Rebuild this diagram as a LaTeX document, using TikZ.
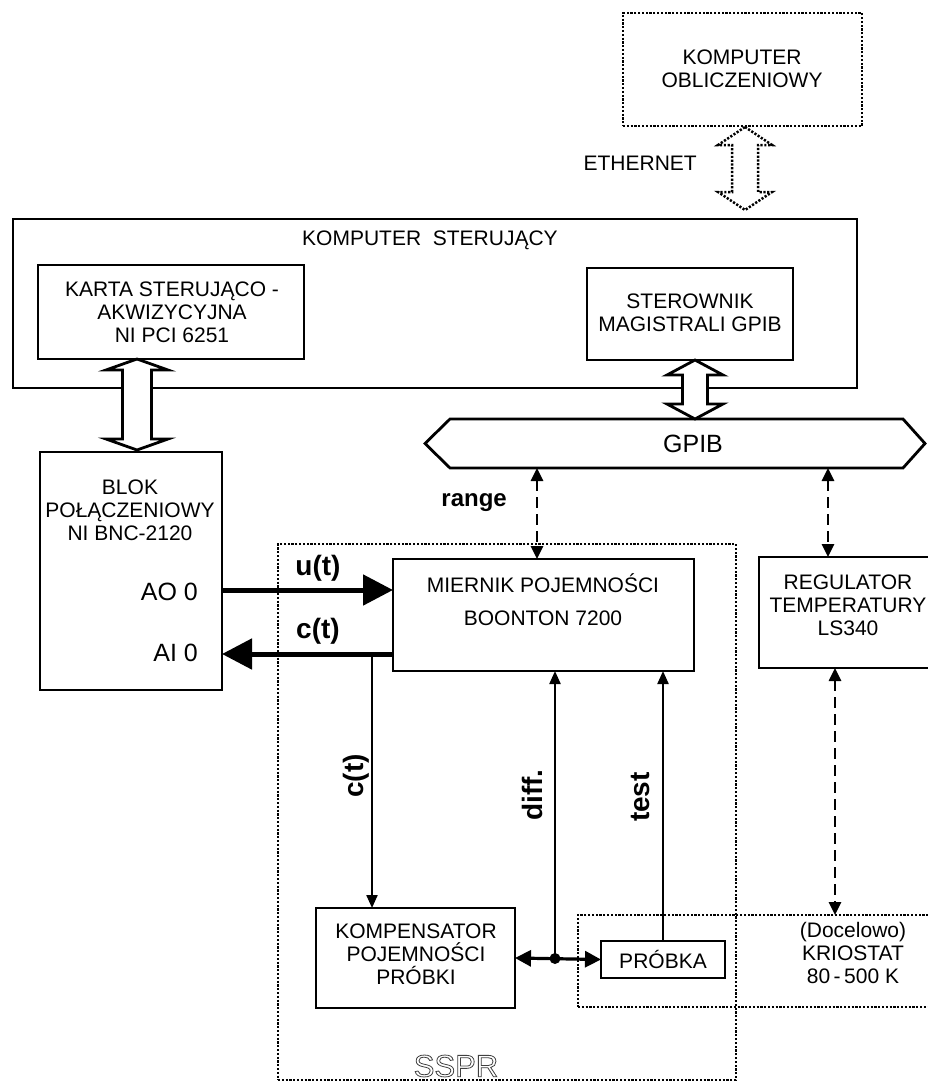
\documentclass[tikz,border=0pt]{standalone}
\usepackage{fontspec}
\setmainfont{Liberation Sans}
\usetikzlibrary{arrows.meta,calc}
\newcommand{\hollowdarrow}[6]{%
  \draw[#6] (#1) -- ($(#1)+(#4,#5)$) -- ($(#1)+(#3,#5)$) -- ($(#2)+(#3,-#5)$) -- ($(#2)+(#4,-#5)$) -- (#2)
    -- ($(#2)+(-#4,-#5)$) -- ($(#2)+(-#3,-#5)$) -- ($(#1)+(-#3,#5)$) -- ($(#1)+(-#4,#5)$) -- cycle;}
\begin{document}
\begin{tikzpicture}[x=1pt,y=-1pt,
  box/.style={draw,line width=2.8pt,inner sep=0pt,outer sep=0pt},
  dotbox/.style={draw,line width=2.5pt,dash pattern=on 2.2pt off 1.6pt,inner sep=0pt,outer sep=0pt},
  txt/.style={font=\fontsize{21}{23}\selectfont,align=center,inner sep=0pt},
  big/.style={font=\fontsize{25}{28}\selectfont,inner sep=0pt},
  lbl/.style={font=\bfseries\fontsize{28}{30}\selectfont,inner sep=0pt},
  fatarrow/.style={line width=5pt,-{Triangle[length=30pt,width=30pt]}},
  thinarrow/.style={line width=2.2pt,-{Triangle[length=13pt,width=11pt]}},
  dashline/.style={line width=2.6pt,dash pattern=on 11pt off 6pt,{Triangle[length=13pt,width=12pt]}-{Triangle[length=13pt,width=12pt]}},
  harrow/.style={line width=2.8pt,line join=miter,fill=white},
  dharrow/.style={line width=2.5pt,dash pattern=on 2.2pt off 1.6pt,fill=white}
]
\useasboundingbox (0,0) rectangle (927,1084);

% ---------- Komputer obliczeniowy ----------
\node[dotbox,minimum width=239,minimum height=113] (kobl) at (742.5,69.5) {};
\node[txt] (kobltxt) at (742,69) {KOMPUTER\\OBLICZENIOWY};

% ---------- Komputer sterujacy ----------
\node[box,minimum width=844,minimum height=169] (kster) at (435,303.5) {};
\node[txt] (ksttxt) at (430,240) {KOMPUTER\ \ STERUJĄCY};
\node[box,minimum width=266,minimum height=94] (karta) at (171,312) {};
\node[txt] (kartatxt) at (172,312) {KARTA STERUJĄCO -\\AKWIZYCYJNA\\NI PCI 6251};
\node[box,minimum width=206,minimum height=92] (sterow) at (690,314) {};
\node[txt] (sterowtxt) at (690,313) {STEROWNIK\\MAGISTRALI GPIB};

% ---------- Ethernet ----------
\coordinate (e1) at (745,127);
\coordinate (e2) at (745,210);
\hollowdarrow{e1}{e2}{13}{27}{18}{dharrow}
\node[txt,anchor=east] (eth) at (697,163) {ETHERNET};

% ---------- GPIB ----------
\draw[line width=2.8pt,line join=miter] (425,443.5) -- (450,419) -- (903,419) -- (925,443.5) -- (903,468) -- (450,468) -- cycle;
\node[font=\fontsize{25}{27}\selectfont,inner sep=0pt] (gpib) at (693,444) {GPIB};

% hollow arrows
\coordinate (la1) at (137,359);
\coordinate (la2) at (137,450);
\hollowdarrow{la1}{la2}{14.5}{31}{11}{harrow}
\coordinate (ra1) at (695,360);
\coordinate (ra2) at (695,419);
\hollowdarrow{ra1}{ra2}{12.5}{28}{15}{harrow}

% ---------- Blok polaczeniowy ----------
\node[box,minimum width=182,minimum height=238] (blok) at (131,571) {};
\node[txt] (bloktxt) at (130,510) {BLOK\\POŁĄCZENIOWY\\NI BNC-2120};
\node[big,anchor=east] (ao) at (198,592) {AO 0};
\node[big,anchor=east] (ai) at (198,653) {AI 0};

% ---------- SSPR ----------
\node[dotbox,minimum width=458,minimum height=536] (sspr) at (507,812) {};
\node[inner sep=0pt,font=\fontsize{31}{33}\selectfont,text=black!75] (ssprtxt) at (456,1066)
  {\special{pdf:code q 1 Tr 0.8 w}SSPR\special{pdf:code Q}};

% ---------- Kriostat ----------
\node[dotbox,minimum width=380,minimum height=92] (krio) at (768,961) {};
\node[txt] (kriotxt) at (853,953) {(Docelowo)\\KRIOSTAT\\80\,-\,500 K};

% ---------- Miernik ----------
\node[box,minimum width=301,minimum height=112] (mier) at (543.5,615) {};
\node[txt] (miertxt) at (543,600) {MIERNIK POJEMNOŚCI\\[10pt]BOONTON 7200};

% ---------- Regulator ----------
\node[box,minimum width=200,minimum height=111] (reg) at (859,612.5) {};
\node[txt] (regtxt) at (848,605) {REGULATOR\\TEMPERATURY\\LS340};

% ---------- Kompensator ----------
\node[box,minimum width=199,minimum height=100] (komp) at (415.5,958) {};
\node[txt] (komptxt) at (416,954) {KOMPENSATOR\\POJEMNOŚCI\\PRÓBKI};

% ---------- Probka ----------
\node[box,minimum width=124,minimum height=37] (probka) at (663,959.5) {};
\node[txt] (probtxt) at (663,959) {PRÓBKA};

% ---------- connectors ----------
\draw[fatarrow] (blok.east |- 0,590) coordinate (uo) -- (uo -| mier.west);
\node[lbl] (ut) at (318,568) {u(t)};
\coordinate (ci) at (393,654);
\draw[fatarrow] (ci) -- (ci -| blok.east);
\node[lbl] (ctl) at (318,631) {c(t)};

\coordinate (ctb) at (372,654);
\draw[thinarrow] (ctb) -- (ctb |- komp.north);
\node[lbl,rotate=90] (ctv) at (356,776) {c(t)};

\node[circle,fill,inner sep=0pt,minimum size=11pt] (dot) at (555,958.5) {};
\draw[line width=3.2pt,{Triangle[length=16pt,width=16pt]}-{Triangle[length=16pt,width=16pt]}] (komp.east) -- (probka.west);
\draw[thinarrow] (dot.center) -- (dot |- mier.south);
\node[lbl,rotate=90] (diffl) at (532,795) {diff.};
\draw[thinarrow] (probka.north) -- (probka.north |- mier.south);
\node[lbl,rotate=90] (testl) at (640,797) {test};

\coordinate (rg) at (537,468);
\draw[dashline] (rg) -- (rg |- mier.north);
\node[anchor=east,inner sep=0pt,font=\bfseries\fontsize{24}{26}\selectfont] (range) at (507,503) {range};

\coordinate (rt) at (828,468);
\draw[dashline] (rt) -- (rt |- reg.north);
\coordinate (rb) at (835,668);
\draw[dashline] (rb) -- (rb |- krio.north);
\end{tikzpicture}
\end{document}
